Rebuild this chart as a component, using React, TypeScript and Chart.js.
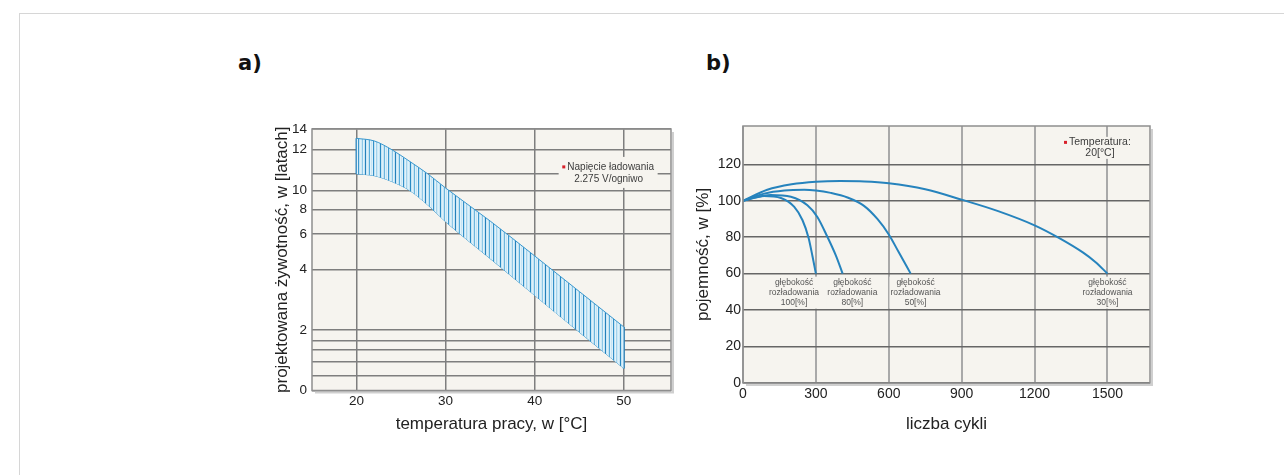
import React, { useEffect, useRef } from 'react';
import { Chart, registerables } from 'chart.js';

Chart.register(...registerables);

const FONT = "'Liberation Sans', Arial, sans-serif";

// ---------- Chart a) ----------
const tempTicks = [20, 30, 40, 50];
const lifeTicks = [0, 2, 4, 6, 8, 10, 12, 14];
const lifeTickLabels = ['0', '2', '4', '6', '8', '10', '12', '14'];
// the original axis is not uniform: level (fraction of axis height) of each labelled tick
const lifeTickLevels = [0, 0.2314, 0.4635, 0.5977, 0.6929, 0.7656, 0.9224, 1];
const lifeMinorLines = [0.5, 0.95, 1.35, 1.65, 10.8];
const bandTemps = [20, 22, 24, 26, 28, 30, 35, 40, 45, 50];
const lifeUpper = [13.08, 12.82, 11.97, 11.4, 10.8, 10.11, 7.06, 4.76, 3.27, 2.1];
const lifeLower = [10.8, 10.71, 10.42, 9.96, 8.45, 7.0, 4.61, 3.14, 1.93, 0.73];
const chargeNote = ['Napięcie ładowania', '2.275 V/ogniwo'];

// ---------- Chart b) ----------
const cycleTicks = [0, 300, 600, 900, 1200, 1500];
const capTicks = [0, 20, 40, 60, 80, 100, 120];
const cycles100 = [0, 87, 156, 211, 245, 270, 286, 300];
const cap100 = [100, 102.6, 101.5, 96.6, 89.3, 79.6, 69.5, 60];
const cycles80 = [0, 115, 197, 265, 306, 348, 382, 410];
const cap80 = [100, 103.2, 102.2, 97.5, 91.1, 80, 70, 60];
const cycles50 = [0, 87, 170, 252, 300, 361, 430, 498, 553, 600, 640, 690];
const cap50 = [100, 103.9, 105.6, 106, 105.6, 104.3, 101.8, 97.2, 90, 81.5, 72, 60];
const cycles30 = [0, 100, 200, 300, 400, 500, 600, 750, 900, 1050, 1200, 1300, 1400, 1450, 1500];
const cap30 = [100, 106, 109, 110.4, 110.8, 110.6, 109.6, 106.3, 100.6, 94.3, 86.5, 79.6, 71.5, 66.4, 60];
const depthWord1 = 'głębokość';
const depthWord2 = 'rozładowania';
const depthNames = ['100[%]', '80[%]', '50[%]', '30[%]'];
const depthLabelX = [210, 450, 710, 1500];
const tempNote = ['Temperatura:', '20[°C]'];

const PLOT_BG = '#f6f4ef';
const LINE_BLUE = '#2683bd';

function warp(v: number): number {
  for (let i = 1; i < lifeTicks.length; i++) {
    if (v <= lifeTicks[i] || i === lifeTicks.length - 1) {
      const t = (v - lifeTicks[i - 1]) / (lifeTicks[i] - lifeTicks[i - 1]);
      return lifeTickLevels[i - 1] + t * (lifeTickLevels[i] - lifeTickLevels[i - 1]);
    }
  }
  return 0;
}

function framePlugin(id: string) {
  return {
    id,
    beforeDraw(chart: any) {
      const { ctx, chartArea: a } = chart;
      ctx.save();
      ctx.fillStyle = PLOT_BG;
      ctx.fillRect(a.left, a.top, a.right - a.left, a.bottom - a.top);
      ctx.restore();
    },
    afterDraw(chart: any) {
      const { ctx, chartArea: a } = chart;
      ctx.save();
      ctx.strokeStyle = '#cfcfcf';
      ctx.lineWidth = 2;
      ctx.beginPath();
      ctx.moveTo(a.right + 2, a.top + 3);
      ctx.lineTo(a.right + 2, a.bottom + 2);
      ctx.lineTo(a.left + 3, a.bottom + 2);
      ctx.stroke();
      ctx.strokeStyle = '#8e8e8e';
      ctx.lineWidth = 1.5;
      ctx.strokeRect(a.left, a.top, a.right - a.left, a.bottom - a.top);
      ctx.restore();
    },
  };
}

function makeStripePattern(ctx: CanvasRenderingContext2D) {
  const cols = ['#2a8ac3', '#c6e4f4', '#dcf0f9', '#c6e4f4', '#6db6de', '#dcf0f9', '#c6e4f4', '#e2f2fa',
    '#3d97cc', '#c2e2f3', '#dcf0f9', '#cde8f6', '#8cc7e6', '#e2f2fa', '#c6e4f4', '#2580bb',
    '#cde8f6', '#dcf0f9', '#c2e2f3', '#5aaedb', '#e2f2fa', '#c6e4f4', '#dcf0f9', '#3590c8',
    '#c2e2f3', '#e2f2fa', '#a3d3ec', '#cde8f6', '#dcf0f9', '#c6e4f4'];
  const pc = document.createElement('canvas');
  pc.width = cols.length;
  pc.height = 4;
  const p = pc.getContext('2d')!;
  cols.forEach((c, i) => { p.fillStyle = c; p.fillRect(i, 0, 1, 4); });
  return ctx.createPattern(pc, 'repeat');
}

const tickFontA = { family: FONT, size: 13.5 };
const tickFontB = { family: FONT, size: 14 };
const titleFont = { family: FONT, size: 17 };

export default function App() {
  const refA = useRef<HTMLCanvasElement>(null);
  const refB = useRef<HTMLCanvasElement>(null);

  useEffect(() => {
    const ctxA = refA.current!.getContext('2d')!;
    const pattern = makeStripePattern(ctxA);
    const pt = (t: number, v: number) => ({ x: t, y: warp(v) });
    const noteTemp = 48.3;
    const noteLife = 10.8;
    const notePlugin = {
      id: 'noteA',
      beforeDatasetsDraw(chart: any) {
        const { ctx, scales } = chart;
        const x = scales.x.getPixelForValue(noteTemp);
        const y = scales.y.getPixelForValue(warp(noteLife));
        ctx.save();
        ctx.fillStyle = PLOT_BG;
        ctx.fillRect(x - 50, y - 17, 99, 31);
        ctx.restore();
      },
      afterDatasetsDraw(chart: any) {
        const { ctx, scales } = chart;
        const x = scales.x.getPixelForValue(noteTemp);
        const y = scales.y.getPixelForValue(warp(noteLife));
        ctx.save();
        ctx.font = `10px ${FONT}`;
        ctx.fillStyle = '#3c3c3c';
        ctx.textAlign = 'center';
        ctx.textBaseline = 'middle';
        ctx.fillText(chargeNote[0], x + 2, y - 7);
        ctx.fillText(chargeNote[1], x, y + 5);
        const w = ctx.measureText(chargeNote[0]).width;
        ctx.fillStyle = '#d8202a';
        ctx.fillRect(x + 2 - w / 2 - 5, y - 8.5, 3, 3);
        ctx.restore();
      },
    };
    const chartA = new Chart(ctxA, {
      type: 'line',
      data: {
        datasets: [
          {
            data: bandTemps.map((t, i) => pt(t, lifeUpper[i])),
            borderColor: '#3a98cf', borderWidth: 1, pointRadius: 0,
            backgroundColor: pattern as any, fill: '+1', cubicInterpolationMode: 'monotone',
          },
          {
            data: bandTemps.map((t, i) => pt(t, lifeLower[i])),
            borderColor: '#3a98cf', borderWidth: 1, pointRadius: 0, fill: false,
            cubicInterpolationMode: 'monotone',
          },
          {
            data: [pt(bandTemps[0], lifeUpper[0]), pt(bandTemps[0], lifeLower[0])],
            borderColor: '#2580bb', borderWidth: 2, pointRadius: 0, fill: false, tension: 0,
          },
          {
            data: [pt(bandTemps[bandTemps.length - 1], lifeUpper[lifeUpper.length - 1]),
              pt(bandTemps[bandTemps.length - 1], lifeLower[lifeLower.length - 1])],
            borderColor: '#2580bb', borderWidth: 2, pointRadius: 0, fill: false, tension: 0,
          },
        ],
      },
      options: {
        responsive: false,
        animation: false,
        layout: { padding: { left: 0, top: 29, right: 29, bottom: 0 } },
        plugins: { legend: { display: false }, tooltip: { enabled: false } },
        scales: {
          x: {
            type: 'linear', min: 15, max: 55.3,
            afterBuildTicks: (axis: any) => { axis.ticks = tempTicks.map((v) => ({ value: v })); },
            afterFit: (axis: any) => { axis.height = 59.5; },
            grid: { color: '#7e7e7e', lineWidth: 1.5, drawTicks: false },
            border: { display: false },
            ticks: { font: tickFontA, color: '#222', padding: 3, autoSkip: false, maxRotation: 0, callback: (v: any) => String(v) },
            title: { display: true, text: 'temperatura pracy, w [°C]', font: titleFont, color: '#222', padding: { top: 0, bottom: 15 } },
          },
          y: {
            type: 'linear', min: 0, max: 1,
            afterBuildTicks: (axis: any) => {
              axis.ticks = [...lifeTicks, ...lifeMinorLines].sort((a, b) => a - b).map((v) => ({ value: warp(v) }));
            },
            afterFit: (axis: any) => { axis.width = 112; },
            grid: { color: '#7e7e7e', lineWidth: 1.5, drawTicks: false },
            border: { display: false },
            ticks: {
              font: tickFontA, color: '#222', padding: 5, autoSkip: false,
              callback: (value: any) => {
                const i = lifeTicks.findIndex((t) => Math.abs(warp(t) - value) < 1e-6);
                return i >= 0 ? lifeTickLabels[i] : '';
              },
            },
            title: { display: true, text: 'projektowana żywotność, w [latach]', font: titleFont, color: '#222', padding: { top: 72, bottom: 0 } },
          },
        },
      } as any,
      plugins: [framePlugin('frameA'), notePlugin],
    });

    const ctxB = refB.current!.getContext('2d')!;
    const series = [
      [cycles100, cap100], [cycles80, cap80], [cycles50, cap50], [cycles30, cap30],
    ];
    const noteCycles = 1469;
    const noteCap = 129;
    const labelsPlugin = {
      id: 'labelsB',
      beforeDatasetsDraw(chart: any) {
        const { ctx, scales } = chart;
        ctx.save();
        ctx.fillStyle = PLOT_BG;
        ctx.font = `8.5px ${FONT}`;
        const y60 = scales.y.getPixelForValue(60);
        depthLabelX.forEach((cx, i) => {
          const x = scales.x.getPixelForValue(cx);
          const w = Math.max(ctx.measureText(depthWord1).width, ctx.measureText(depthWord2).width, ctx.measureText(depthNames[i]).width) + 2;
          ctx.fillRect(x - w / 2, y60 + 3, w, 32);
        });
        const nx = scales.x.getPixelForValue(noteCycles);
        const ny = scales.y.getPixelForValue(noteCap);
        ctx.fillRect(nx - 38, ny - 11, 76, 22);
        ctx.restore();
      },
      afterDatasetsDraw(chart: any) {
        const { ctx, scales } = chart;
        ctx.save();
        ctx.textAlign = 'center';
        ctx.textBaseline = 'middle';
        ctx.fillStyle = '#555';
        ctx.font = `8.5px ${FONT}`;
        const y60 = scales.y.getPixelForValue(60);
        depthLabelX.forEach((cx, i) => {
          const x = scales.x.getPixelForValue(cx);
          ctx.fillText(depthWord1, x, y60 + 9);
          ctx.fillText(depthWord2, x, y60 + 19);
          ctx.fillText(depthNames[i], x, y60 + 29);
        });
        const nx = scales.x.getPixelForValue(noteCycles);
        const ny = scales.y.getPixelForValue(noteCap);
        ctx.font = `10.5px ${FONT}`;
        ctx.fillStyle = '#3c3c3c';
        ctx.fillText(tempNote[0], nx, ny - 5.5);
        ctx.fillText(tempNote[1], nx, ny + 5.5);
        const w = ctx.measureText(tempNote[0]).width;
        ctx.fillStyle = '#d8202a';
        ctx.fillRect(nx - w / 2 - 5, ny - 7, 3, 3);
        ctx.restore();
      },
    };
    const chartB = new Chart(ctxB, {
      type: 'line',
      data: {
        datasets: series.map(([xs, ys]) => ({
          data: xs.map((x, i) => ({ x, y: ys[i] })),
          borderColor: LINE_BLUE, borderWidth: 2, pointRadius: 0, fill: false,
          cubicInterpolationMode: 'monotone',
        })),
      },
      options: {
        responsive: false,
        animation: false,
        layout: { padding: { left: 0, top: 26, right: 40, bottom: 0 } },
        plugins: { legend: { display: false }, tooltip: { enabled: false } },
        scales: {
          x: {
            type: 'linear', min: 0, max: 1675,
            afterBuildTicks: (axis: any) => { axis.ticks = cycleTicks.map((v) => ({ value: v })); },
            afterFit: (axis: any) => { axis.height = 67; },
            grid: { color: '#a9a9a9', lineWidth: 2, drawTicks: false },
            border: { display: false },
            ticks: { font: tickFontB, color: '#222', padding: 3, autoSkip: false, maxRotation: 0, callback: (v: any) => String(v) },
            title: { display: true, text: 'liczba cykli', font: titleFont, color: '#222', padding: { top: 0, bottom: 15 } },
          },
          y: {
            type: 'linear', min: 0, max: 141,
            afterBuildTicks: (axis: any) => { axis.ticks = capTicks.map((v) => ({ value: v })); },
            afterFit: (axis: any) => { axis.width = 93; },
            grid: { color: '#666', lineWidth: 1.5, drawTicks: false },
            border: { display: false },
            ticks: { font: tickFontB, color: '#222', padding: 2, autoSkip: false, callback: (v: any) => String(v) },
            title: { display: true, text: 'pojemność, w [%]', font: titleFont, color: '#222', padding: { top: 43, bottom: 0 } },
          },
        },
      } as any,
      plugins: [framePlugin('frameB'), labelsPlugin],
    });

    return () => { chartA.destroy(); chartB.destroy(); };
  }, []);

  const letter: React.CSSProperties = {
    position: 'absolute', fontFamily: "'DejaVu Sans', Verdana, sans-serif", fontWeight: 'bold',
    fontSize: 21, lineHeight: '24px', color: '#111',
  };

  return (
    <div style={{ position: 'absolute', left: 0, top: 0, width: 1284, height: 475, overflow: 'hidden', background: '#fff' }}>
      <div style={{ position: 'absolute', left: 19, top: 13, width: 1400, height: 600, border: '1px solid #d6d6d6' }} />
      <div style={{ ...letter, left: 238, top: 51 }}>a)</div>
      <div style={{ ...letter, left: 706, top: 51 }}>b)</div>
      <canvas ref={refA} width={500} height={350} style={{ position: 'absolute', left: 200, top: 100 }} />
      <canvas ref={refB} width={540} height={350} style={{ position: 'absolute', left: 650, top: 100 }} />
    </div>
  );
}
